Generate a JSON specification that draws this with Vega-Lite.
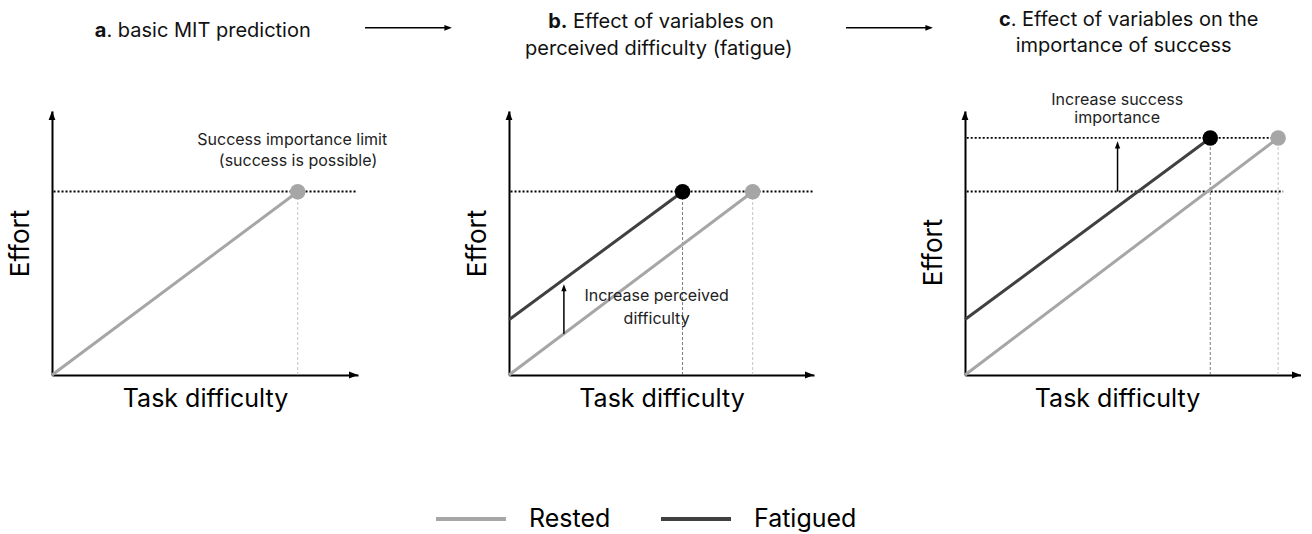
{
  "$schema": "https://vega.github.io/schema/vega-lite/v6.json",
  "padding": {"left": 7, "top": 10, "right": 0, "bottom": 0},
  "background": "white",
  "spacing": 151,
  "bounds": "flush",
  "datasets": {
    "lines": [
      {"p": "a", "s": "Rested", "x": 0, "y": 0},
      {"p": "a", "s": "Rested", "x": 8.03, "y": 6.94},
      {"p": "b", "s": "Rested", "x": 0, "y": 0},
      {"p": "b", "s": "Rested", "x": 7.99, "y": 6.94},
      {"p": "b", "s": "Fatigued", "x": 0, "y": 2.09},
      {"p": "b", "s": "Fatigued", "x": 5.69, "y": 6.94},
      {"p": "c", "s": "Rested", "x": 0, "y": 0},
      {"p": "c", "s": "Rested", "x": 9.32, "y": 8.98},
      {"p": "c", "s": "Fatigued", "x": 0, "y": 2.1},
      {"p": "c", "s": "Fatigued", "x": 7.3, "y": 8.98}
    ],
    "points": [
      {"p": "a", "s": "Rested", "x": 8.03, "y": 6.94},
      {"p": "b", "s": "Rested", "x": 7.99, "y": 6.94},
      {"p": "b", "s": "Fatigued", "x": 5.69, "y": 6.94},
      {"p": "c", "s": "Rested", "x": 9.32, "y": 8.98},
      {"p": "c", "s": "Fatigued", "x": 7.3, "y": 8.98}
    ],
    "dotted": [
      {"p": "a", "x": 0.05, "x2": 9.95, "y": 6.95},
      {"p": "b", "x": 0.05, "x2": 10, "y": 6.95},
      {"p": "c", "x": 0.05, "x2": 9.42, "y": 8.98},
      {"p": "c", "x": 0.05, "x2": 9.47, "y": 6.95}
    ],
    "guides": [
      {"p": "a", "s": "Rested", "x": 8.03, "y": 0, "y2": 6.94},
      {"p": "b", "s": "Rested", "x": 7.99, "y": 0, "y2": 6.94},
      {"p": "b", "s": "Fatigued", "x": 5.69, "y": 0, "y2": 6.94},
      {"p": "c", "s": "Rested", "x": 9.32, "y": 0, "y2": 8.98},
      {"p": "c", "s": "Fatigued", "x": 7.3, "y": 0, "y2": 8.98}
    ],
    "shafts": [
      {"p": "a", "x": 10.23, "x2": 12.9, "y": 13.15, "y2": 13.15},
      {"p": "b", "x": 11.05, "x2": 13.7, "y": 13.15, "y2": 13.15},
      {"p": "b", "x": 1.8, "x2": 1.8, "y": 1.56, "y2": 3.3},
      {"p": "c", "x": 4.54, "x2": 4.54, "y": 6.95, "y2": 8.7}
    ],
    "bigUp": [
      {"p": "a", "x": 0, "y": 10},
      {"p": "b", "x": 0, "y": 10},
      {"p": "c", "x": 0, "y": 10}
    ],
    "bigRight": [
      {"p": "a", "x": 10, "y": 0},
      {"p": "b", "x": 10, "y": 0},
      {"p": "c", "x": 10, "y": 0}
    ],
    "smallUp": [
      {"p": "b", "x": 1.8, "y": 3.44},
      {"p": "c", "x": 4.54, "y": 8.85}
    ],
    "smallRight": [
      {"p": "a", "x": 13.07, "y": 13.15},
      {"p": "b", "x": 13.9, "y": 13.15}
    ],
    "annot": [
      {"p": "a", "t": "Success importance limit", "x": 7.85, "y": 8.71},
      {"p": "a", "t": "(success is possible)", "x": 8.04, "y": 7.93},
      {"p": "b", "t": "Increase perceived", "x": 4.84, "y": 2.79},
      {"p": "b", "t": "difficulty", "x": 4.84, "y": 1.94},
      {"p": "c", "t": "Increase success", "x": 4.53, "y": 10.22},
      {"p": "c", "t": "importance", "x": 4.53, "y": 9.54}
    ],
    "titleBold": [
      {"p": "a", "t": "a", "x": 1.78, "y": 12.81},
      {"p": "b", "t": "b.", "x": 1.92, "y": 13.14},
      {"p": "c", "t": "c", "x": 1.36, "y": 13.21}
    ],
    "titleLeft": [
      {"p": "a", "t": ". basic MIT prediction", "x": 1.78, "y": 12.81},
      {"p": "b", "t": "Effect of variables on", "x": 2.1, "y": 13.14},
      {"p": "c", "t": ". Effect of variables on the", "x": 1.36, "y": 13.21}
    ],
    "titleCenter": [
      {"p": "b", "t": "perceived difficulty (fatigue)", "x": 4.91, "y": 12.12},
      {"p": "c", "t": "importance of success", "x": 4.72, "y": 12.24}
    ]
  },
  "hconcat": [
    {
      "width": 306,
      "height": 264,
      "encoding": {
        "x": {"field": "x", "type": "quantitative", "scale": {"domain": [0, 10], "nice": false}, "axis": {"title": "Task difficulty"}},
        "y": {"field": "y", "type": "quantitative", "scale": {"domain": [0, 10], "nice": false}, "axis": {"title": "Effort"}}
      },
      "layer": [
        {"data": {"name": "guides"}, "transform": [{"filter": "datum.p == 'a'"}], "mark": {"type": "rule", "strokeWidth": 1, "strokeDash": [3, 2], "opacity": 0.75}, "encoding": {"y2": {"field": "y2"}, "stroke": {"condition": {"test": "datum.s == 'Fatigued'", "value": "#505050"}, "value": "#b0b0b0"}}},
        {"data": {"name": "dotted"}, "transform": [{"filter": "datum.p == 'a'"}], "mark": {"type": "rule", "color": "black", "strokeWidth": 1.8, "strokeDash": [2, 2]}, "encoding": {"x2": {"field": "x2"}}},
        {"data": {"name": "lines"}, "transform": [{"filter": "datum.p == 'a'"}], "mark": {"type": "line", "strokeWidth": 3}, "encoding": {"color": {"field": "s", "type": "nominal", "scale": {"domain": ["Rested", "Fatigued"], "range": ["#a6a6a6", "#404040"]}, "legend": {"orient": "none", "legendX": 382, "legendY": 371, "direction": "horizontal", "title": null}}}},
        {"data": {"name": "points"}, "transform": [{"filter": "datum.p == 'a'"}], "mark": {"type": "circle", "size": 240, "opacity": 1}, "encoding": {"fill": {"condition": {"test": "datum.s == 'Fatigued'", "value": "#000000"}, "value": "#a6a6a6"}}},
        {"data": {"name": "shafts"}, "transform": [{"filter": "datum.p == 'a'"}], "mark": {"type": "rule", "color": "black", "strokeWidth": 1.5}, "encoding": {"x2": {"field": "x2"}, "y2": {"field": "y2"}}},
        {"data": {"name": "bigUp"}, "transform": [{"filter": "datum.p == 'a'"}], "mark": {"type": "point", "shape": "M0,0L-0.6,1.6L0.6,1.6Z", "filled": true, "color": "black", "size": 127, "opacity": 1}},
        {"data": {"name": "bigRight"}, "transform": [{"filter": "datum.p == 'a'"}], "mark": {"type": "point", "shape": "M0,0L-1.6,-0.6L-1.6,0.6Z", "filled": true, "color": "black", "size": 127, "opacity": 1}},
        {"data": {"name": "smallRight"}, "transform": [{"filter": "datum.p == 'a'"}], "mark": {"type": "point", "shape": "M0,0L-1.6,-0.6L-1.6,0.6Z", "filled": true, "color": "black", "size": 90, "opacity": 1}},
        {"data": {"name": "annot"}, "transform": [{"filter": "datum.p == 'a'"}], "mark": {"type": "text", "fontSize": 16, "align": "center", "baseline": "alphabetic", "font": "Inter", "color": "#222"}, "encoding": {"text": {"field": "t"}}},
        {"data": {"name": "titleBold"}, "transform": [{"filter": "datum.p == 'a'"}], "mark": {"type": "text", "fontSize": 20, "align": "right", "baseline": "alphabetic", "font": "Inter", "fontWeight": "bold", "color": "#111"}, "encoding": {"text": {"field": "t"}}},
        {"data": {"name": "titleLeft"}, "transform": [{"filter": "datum.p == 'a'"}], "mark": {"type": "text", "fontSize": 20, "align": "left", "baseline": "alphabetic", "font": "Inter", "color": "#111"}, "encoding": {"text": {"field": "t"}}}
      ]
    },
    {
      "width": 305,
      "height": 264,
      "encoding": {
        "x": {"field": "x", "type": "quantitative", "scale": {"domain": [0, 10], "nice": false}, "axis": {"title": "Task difficulty"}},
        "y": {"field": "y", "type": "quantitative", "scale": {"domain": [0, 10], "nice": false}, "axis": {"title": "Effort"}}
      },
      "layer": [
        {"data": {"name": "guides"}, "transform": [{"filter": "datum.p == 'b'"}], "mark": {"type": "rule", "strokeWidth": 1, "strokeDash": [3, 2], "opacity": 0.75}, "encoding": {"y2": {"field": "y2"}, "stroke": {"condition": {"test": "datum.s == 'Fatigued'", "value": "#505050"}, "value": "#b0b0b0"}}},
        {"data": {"name": "dotted"}, "transform": [{"filter": "datum.p == 'b'"}], "mark": {"type": "rule", "color": "black", "strokeWidth": 1.8, "strokeDash": [2, 2]}, "encoding": {"x2": {"field": "x2"}}},
        {"data": {"name": "lines"}, "transform": [{"filter": "datum.p == 'b'"}], "mark": {"type": "line", "strokeWidth": 3}, "encoding": {"color": {"field": "s", "type": "nominal", "scale": {"domain": ["Rested", "Fatigued"], "range": ["#a6a6a6", "#404040"]}, "legend": {"orient": "none", "legendX": 382, "legendY": 371, "direction": "horizontal", "title": null}}}},
        {"data": {"name": "points"}, "transform": [{"filter": "datum.p == 'b'"}], "mark": {"type": "circle", "size": 240, "opacity": 1}, "encoding": {"fill": {"condition": {"test": "datum.s == 'Fatigued'", "value": "#000000"}, "value": "#a6a6a6"}}},
        {"data": {"name": "shafts"}, "transform": [{"filter": "datum.p == 'b'"}], "mark": {"type": "rule", "color": "black", "strokeWidth": 1.5}, "encoding": {"x2": {"field": "x2"}, "y2": {"field": "y2"}}},
        {"data": {"name": "bigUp"}, "transform": [{"filter": "datum.p == 'b'"}], "mark": {"type": "point", "shape": "M0,0L-0.6,1.6L0.6,1.6Z", "filled": true, "color": "black", "size": 127, "opacity": 1}},
        {"data": {"name": "bigRight"}, "transform": [{"filter": "datum.p == 'b'"}], "mark": {"type": "point", "shape": "M0,0L-1.6,-0.6L-1.6,0.6Z", "filled": true, "color": "black", "size": 127, "opacity": 1}},
        {"data": {"name": "smallUp"}, "transform": [{"filter": "datum.p == 'b'"}], "mark": {"type": "point", "shape": "M0,0L-0.6,1.6L0.6,1.6Z", "filled": true, "color": "black", "size": 77, "opacity": 1}},
        {"data": {"name": "smallRight"}, "transform": [{"filter": "datum.p == 'b'"}], "mark": {"type": "point", "shape": "M0,0L-1.6,-0.6L-1.6,0.6Z", "filled": true, "color": "black", "size": 90, "opacity": 1}},
        {"data": {"name": "annot"}, "transform": [{"filter": "datum.p == 'b'"}], "mark": {"type": "text", "fontSize": 16, "align": "center", "baseline": "alphabetic", "font": "Inter", "color": "#222"}, "encoding": {"text": {"field": "t"}}},
        {"data": {"name": "titleBold"}, "transform": [{"filter": "datum.p == 'b'"}], "mark": {"type": "text", "fontSize": 20, "align": "right", "baseline": "alphabetic", "font": "Inter", "fontWeight": "bold", "color": "#111"}, "encoding": {"text": {"field": "t"}}},
        {"data": {"name": "titleLeft"}, "transform": [{"filter": "datum.p == 'b'"}], "mark": {"type": "text", "fontSize": 20, "align": "left", "baseline": "alphabetic", "font": "Inter", "color": "#111"}, "encoding": {"text": {"field": "t"}}},
        {"data": {"name": "titleCenter"}, "transform": [{"filter": "datum.p == 'b'"}], "mark": {"type": "text", "fontSize": 20, "align": "center", "baseline": "alphabetic", "font": "Inter", "color": "#111"}, "encoding": {"text": {"field": "t"}}}
      ]
    },
    {
      "width": 336,
      "height": 264,
      "encoding": {
        "x": {"field": "x", "type": "quantitative", "scale": {"domain": [0, 10], "nice": false}, "axis": {"title": "Task difficulty", "titleX": 152}},
        "y": {"field": "y", "type": "quantitative", "scale": {"domain": [0, 10], "nice": false}, "axis": {"title": "Effort", "titleY": 141}}
      },
      "layer": [
        {"data": {"name": "guides"}, "transform": [{"filter": "datum.p == 'c'"}], "mark": {"type": "rule", "strokeWidth": 1, "strokeDash": [3, 2], "opacity": 0.75}, "encoding": {"y2": {"field": "y2"}, "stroke": {"condition": {"test": "datum.s == 'Fatigued'", "value": "#505050"}, "value": "#b0b0b0"}}},
        {"data": {"name": "dotted"}, "transform": [{"filter": "datum.p == 'c'"}], "mark": {"type": "rule", "color": "black", "strokeWidth": 1.8, "strokeDash": [2, 2]}, "encoding": {"x2": {"field": "x2"}}},
        {"data": {"name": "lines"}, "transform": [{"filter": "datum.p == 'c'"}], "mark": {"type": "line", "strokeWidth": 3}, "encoding": {"color": {"field": "s", "type": "nominal", "scale": {"domain": ["Rested", "Fatigued"], "range": ["#a6a6a6", "#404040"]}, "legend": {"orient": "none", "legendX": 382, "legendY": 371, "direction": "horizontal", "title": null}}}},
        {"data": {"name": "points"}, "transform": [{"filter": "datum.p == 'c'"}], "mark": {"type": "circle", "size": 240, "opacity": 1}, "encoding": {"fill": {"condition": {"test": "datum.s == 'Fatigued'", "value": "#000000"}, "value": "#a6a6a6"}}},
        {"data": {"name": "shafts"}, "transform": [{"filter": "datum.p == 'c'"}], "mark": {"type": "rule", "color": "black", "strokeWidth": 1.5}, "encoding": {"x2": {"field": "x2"}, "y2": {"field": "y2"}}},
        {"data": {"name": "bigUp"}, "transform": [{"filter": "datum.p == 'c'"}], "mark": {"type": "point", "shape": "M0,0L-0.6,1.6L0.6,1.6Z", "filled": true, "color": "black", "size": 127, "opacity": 1}},
        {"data": {"name": "bigRight"}, "transform": [{"filter": "datum.p == 'c'"}], "mark": {"type": "point", "shape": "M0,0L-1.6,-0.6L-1.6,0.6Z", "filled": true, "color": "black", "size": 127, "opacity": 1}},
        {"data": {"name": "smallUp"}, "transform": [{"filter": "datum.p == 'c'"}], "mark": {"type": "point", "shape": "M0,0L-0.6,1.6L0.6,1.6Z", "filled": true, "color": "black", "size": 77, "opacity": 1}},
        {"data": {"name": "annot"}, "transform": [{"filter": "datum.p == 'c'"}], "mark": {"type": "text", "fontSize": 16, "align": "center", "baseline": "alphabetic", "font": "Inter", "color": "#222"}, "encoding": {"text": {"field": "t"}}},
        {"data": {"name": "titleBold"}, "transform": [{"filter": "datum.p == 'c'"}], "mark": {"type": "text", "fontSize": 20, "align": "right", "baseline": "alphabetic", "font": "Inter", "fontWeight": "bold", "color": "#111"}, "encoding": {"text": {"field": "t"}}},
        {"data": {"name": "titleLeft"}, "transform": [{"filter": "datum.p == 'c'"}], "mark": {"type": "text", "fontSize": 20, "align": "left", "baseline": "alphabetic", "font": "Inter", "color": "#111"}, "encoding": {"text": {"field": "t"}}},
        {"data": {"name": "titleCenter"}, "transform": [{"filter": "datum.p == 'c'"}], "mark": {"type": "text", "fontSize": 20, "align": "center", "baseline": "alphabetic", "font": "Inter", "color": "#111"}, "encoding": {"text": {"field": "t"}}}
      ]
    }
  ],
  "config": {
    "view": {"stroke": null},
    "font": "Inter",
    "axis": {"grid": false, "ticks": false, "labels": false, "domainColor": "black", "domainWidth": 2, "titleFontWeight": "normal", "titleColor": "black", "titleFont": "Inter"},
    "axisX": {"titleFontSize": 25, "titlePadding": 11},
    "axisY": {"titleFontSize": 26, "titlePadding": 19},
    "legend": {"symbolType": "stroke", "symbolSize": 4900, "symbolStrokeWidth": 4, "labelFontSize": 25, "labelFont": "Inter", "labelOffset": 21, "columnPadding": 42, "labelColor": "black"}
  }
}
